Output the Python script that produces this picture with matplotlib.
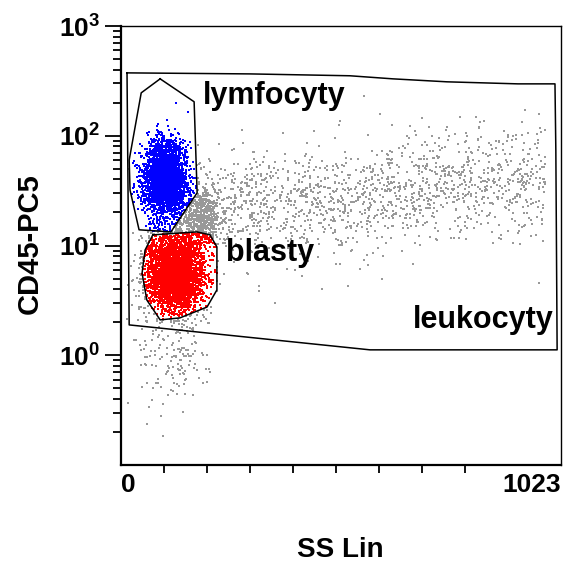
import numpy as np
import matplotlib.pyplot as plt
from matplotlib.path import Path

plt.rcParams['font.family'] = ['Liberation Sans', 'DejaVu Sans']
plt.rcParams['mathtext.fontset'] = 'custom'
plt.rcParams['mathtext.rm'] = 'Liberation Sans'
plt.rcParams['mathtext.bf'] = 'Liberation Sans:bold'

# Gates (SS Lin, CD45-PC5), vertices
leuko_x = [14, 300, 532, 632, 758, 923, 1009, 1011, 1014, 579, 19]
leuko_y = [374, 366, 352, 330, 310, 297, 297, 74, 1.12, 1.12, 1.89]
lymph_x = [91, 170, 177, 116, 42, 21, 19, 47]
lymph_y = [330, 204, 30.2, 13.3, 13.9, 32, 60, 246]
blast_x = [74, 177, 207, 223, 223, 200, 137, 91, 60, 49, 56]
blast_y = [12.5, 13.3, 12.5, 9.7, 3.94, 2.75, 2.19, 2.10, 3.19, 5.6, 9.1]

# Event clouds:
# centre SS, centre log10(CD45), sd SS, sd log10(CD45), number of events
cloud_ss = [102, 125, 187, 120]
cloud_logcd = [1.61, 0.75, 1.25, 0.05]
cloud_sd_ss = [25, 33, 22, 45]
cloud_sd_log = [0.17, 0.18, 0.13, 0.28]
cloud_n = [3000, 3600, 550, 170]

# broad granulocyte band: SS range, log10(CD45) centre at left/right end
band_ss = [175, 990]
band_logcd = [1.33, 1.60]
band_sd_log = 0.25
band_n = 1500

rng = np.random.default_rng(3)
xs, ys = [], []
for cx, cy, sx, sy, n in zip(cloud_ss, cloud_logcd, cloud_sd_ss, cloud_sd_log, cloud_n):
    xs.append(rng.normal(cx, sx, n))
    ys.append(rng.normal(cy, sy, n))
bx = rng.uniform(band_ss[0], band_ss[1], band_n)
frac = (bx - band_ss[0]) / (band_ss[1] - band_ss[0])
xs.append(bx)
ys.append(band_logcd[0] + frac * (band_logcd[1] - band_logcd[0]) + rng.normal(0, band_sd_log, band_n))
ss = np.concatenate(xs)
cd = 10 ** np.concatenate(ys)
keep = (ss > 0) & (ss < 1023) & (cd > 0.1) & (cd < 1000)
ss, cd = ss[keep], cd[keep]

# colour events by gate (gates tested in log space for CD45)
pts = np.column_stack([ss, np.log10(cd)])
in_lymph = Path(np.column_stack([lymph_x, np.log10(lymph_y)])).contains_points(pts)
in_blast = Path(np.column_stack([blast_x, np.log10(blast_y)])).contains_points(pts)
grey = ~in_lymph & ~in_blast

fig = plt.figure(figsize=(5.63, 5.62), dpi=100)
ax = fig.add_axes([121 / 563, 1 - 465 / 562, 440 / 563, 439 / 562])

ax.scatter(ss[grey], cd[grey], s=1.0, marker='s', color='#999999', linewidths=0)
ax.scatter(ss[in_lymph], cd[in_lymph], s=1.6, marker='s', color='#0000ff', linewidths=0)
ax.scatter(ss[in_blast], cd[in_blast], s=1.6, marker='s', color='#ff0000', linewidths=0)

for gx, gy in [(leuko_x, leuko_y), (lymph_x, lymph_y), (blast_x, blast_y)]:
    ax.plot(gx + gx[:1], gy + gy[:1], color='black', lw=1.1)

ax.set_xlim(0, 1023)
ax.set_yscale('log')
ax.set_ylim(0.1, 1000)

ax.set_yticks([1, 10, 100, 1000])
ax.set_yticklabels([r'$\mathbf{10^{0}}$', r'$\mathbf{10^{1}}$',
                    r'$\mathbf{10^{2}}$', r'$\mathbf{10^{3}}$'], fontsize=19)
ax.tick_params(axis='y', which='major', direction='out', length=11.5, width=1.3, pad=3.5)
ax.tick_params(axis='y', which='minor', direction='out', length=5.5, width=1.3)
ax.set_xticks([100, 200, 300, 400, 500, 600, 700, 800])
ax.set_xticklabels([])
ax.tick_params(axis='x', direction='out', length=5.5, width=1.3)

for side in ['left', 'bottom']:
    ax.spines[side].set_linewidth(1.6)
for side in ['top', 'right']:
    ax.spines[side].set_linewidth(1.0)

ax.annotate('0', xy=(16, 0), xycoords=('data', 'axes fraction'), xytext=(0, -6),
            textcoords='offset points', ha='center', va='top', fontsize=19, fontweight='bold')
ax.annotate('1023', xy=(1023, 0), xycoords=('data', 'axes fraction'), xytext=(0, -6),
            textcoords='offset points', ha='right', va='top', fontsize=19, fontweight='bold')

ax.text(191, 195, 'lymfocyty', fontsize=22, fontweight='bold', va='baseline')
ax.text(244, 7.2, 'blasty', fontsize=22, fontweight='bold', va='baseline')
ax.text(679, 1.78, 'leukocyty', fontsize=22, fontweight='bold', va='baseline', clip_on=True)

fig.text(30 / 563, 1 - 244 / 562, 'CD45-PC5', rotation=90, ha='center', va='center',
         fontsize=21, fontweight='bold')
fig.text(340 / 563, 1 - 550 / 562, 'SS Lin', ha='center', va='center',
         fontsize=20, fontweight='bold')

fig.savefig('out.png', dpi=100)
